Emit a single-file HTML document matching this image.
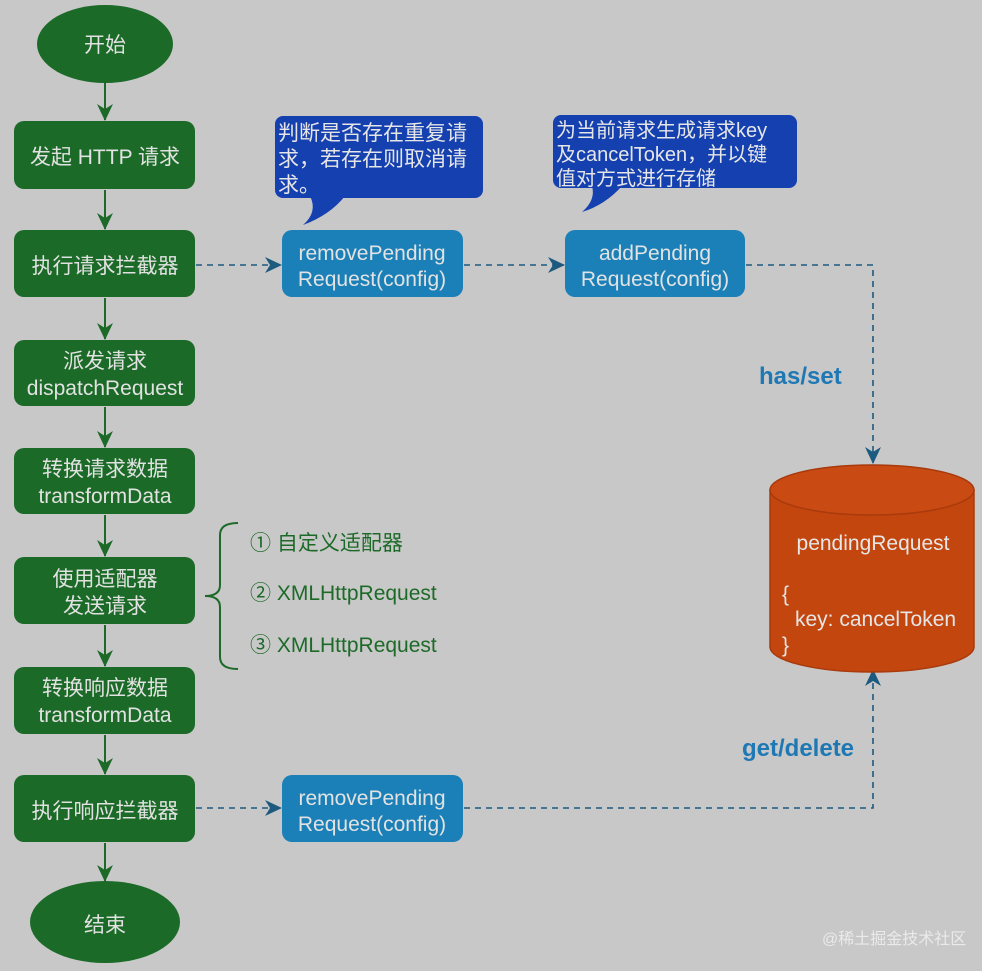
<!DOCTYPE html>
<html><head><meta charset="utf-8"><style>
html,body{margin:0;padding:0;background:#c8c8c8;}
svg{display:block;font-family:"Liberation Sans","Noto Sans CJK SC",sans-serif;}
</style></head><body>
<svg width="982" height="971" viewBox="0 0 982 971" xmlns="http://www.w3.org/2000/svg">
<defs>
<marker id="ag" markerWidth="18" markerHeight="18" refX="16" refY="8" orient="auto" markerUnits="userSpaceOnUse"><path d="M0,0 L17,8 L0,16 L5,8 Z" fill="#1d6a28"/></marker>
<marker id="ab" markerWidth="18" markerHeight="18" refX="16" refY="8" orient="auto" markerUnits="userSpaceOnUse"><path d="M0,0 L17,8 L0,16 L5,8 Z" fill="#1d5a80"/></marker>
</defs>
<rect width="982" height="971" fill="#c8c8c8"/>
<g stroke="#1d6a28" stroke-width="2" fill="none" marker-end="url(#ag)">
<line x1="105" y1="82" x2="105" y2="120"/>
<line x1="105" y1="190" x2="105" y2="229"/>
<line x1="105" y1="298" x2="105" y2="339"/>
<line x1="105" y1="407" x2="105" y2="447"/>
<line x1="105" y1="515" x2="105" y2="556"/>
<line x1="105" y1="625" x2="105" y2="666"/>
<line x1="105" y1="735" x2="105" y2="774"/>
<line x1="105" y1="843" x2="105" y2="881"/>
</g>
<g fill="#1b6a27">
<ellipse cx="105" cy="44" rx="68" ry="39"/>
<rect x="14" y="121" width="181" height="68" rx="10"/>
<rect x="14" y="230" width="181" height="67" rx="10"/>
<rect x="14" y="340" width="181" height="66" rx="10"/>
<rect x="14" y="448" width="181" height="66" rx="10"/>
<rect x="14" y="557" width="181" height="67" rx="10"/>
<rect x="14" y="667" width="181" height="67" rx="10"/>
<rect x="14" y="775" width="181" height="67" rx="10"/>
<ellipse cx="105" cy="922" rx="75" ry="41"/>
</g>
<g fill="#e2e2e2" font-size="21" text-anchor="middle">
<text x="105" y="52">开始</text>
<text x="105" y="164">发起 HTTP 请求</text>
<text x="105" y="273">执行请求拦截器</text>
<text x="105" y="368">派发请求</text>
<text x="105" y="395">dispatchRequest</text>
<text x="105" y="476">转换请求数据</text>
<text x="105" y="503">transformData</text>
<text x="105" y="586">使用适配器</text>
<text x="105" y="613">发送请求</text>
<text x="105" y="695">转换响应数据</text>
<text x="105" y="722">transformData</text>
<text x="105" y="818">执行响应拦截器</text>
<text x="105" y="932">结束</text>
</g>
<path d="M238,523 Q220,523 220,535 L220,585 Q220,596 205,596 Q220,596 220,607 L220,657 Q220,669 238,669" stroke="#1d6a28" stroke-width="2" fill="none"/>
<g fill="#1d6a28" font-size="21">
<text x="250" y="550">① 自定义适配器</text>
<text x="250" y="600">② XMLHttpRequest</text>
<text x="250" y="652">③ XMLHttpRequest</text>
</g>
<g stroke="#1d5a80" stroke-width="1.6" fill="none" stroke-dasharray="6,5">
<line x1="196" y1="265" x2="281" y2="265" marker-end="url(#ab)"/>
<line x1="464" y1="265" x2="564" y2="265" marker-end="url(#ab)"/>
<polyline points="746,265 873,265 873,463" marker-end="url(#ab)"/>
<line x1="196" y1="808" x2="281" y2="808" marker-end="url(#ab)"/>
<polyline points="464,808 873,808 873,670" marker-end="url(#ab)"/>
</g>
<g fill="#1b80b8">
<rect x="282" y="230" width="181" height="67" rx="10"/>
<rect x="565" y="230" width="180" height="67" rx="10"/>
<rect x="282" y="775" width="181" height="67" rx="10"/>
</g>
<g fill="#e2e2e2" font-size="21" text-anchor="middle">
<text x="372" y="260">removePending</text>
<text x="372" y="286">Request(config)</text>
<text x="655" y="260">addPending</text>
<text x="655" y="286">Request(config)</text>
<text x="372" y="805">removePending</text>
<text x="372" y="831">Request(config)</text>
</g>
<g fill="#1540b0">
<rect x="275" y="116" width="208" height="82" rx="8"/>
<path d="M310,196 L345,196 Q330,215 303,225 Q318,212 310,196 Z"/>
<rect x="553" y="115" width="244" height="73" rx="8"/>
<path d="M592,186 L622,186 Q605,205 582,212 Q596,200 592,186 Z"/>
</g>
<g fill="#e6e6e6" font-size="21">
<text x="278" y="140">判断是否存在重复请</text>
<text x="278" y="166">求，若存在则取消请</text>
<text x="278" y="192">求。</text>
</g>
<g fill="#e6e6e6" font-size="20">
<text x="556" y="137">为当前请求生成请求key</text>
<text x="556" y="161">及cancelToken，并以键</text>
<text x="556" y="185">值对方式进行存储</text>
</g>
<g fill="#1e78b4" font-size="24" font-weight="bold">
<text x="759" y="384">has/set</text>
<text x="742" y="756">get/delete</text>
</g>
<path d="M770,490 L770,647 A102,25 0 0 0 974,647 L974,490 Z" fill="#c4460f" stroke="#a83a0c" stroke-width="1.5"/>
<ellipse cx="872" cy="490" rx="102" ry="25" fill="#c94a12" stroke="#a83a0c" stroke-width="1.5"/>
<g fill="#e6e6e6" font-size="21">
<text x="873" y="550" text-anchor="middle">pendingRequest</text>
<text x="782" y="601">{</text>
<text x="795" y="626">key: cancelToken</text>
<text x="782" y="652">}</text>
</g>
<text x="822" y="944" fill="#eaeaea" font-size="16">@稀土掘金技术社区</text>
</svg>
</body></html>
